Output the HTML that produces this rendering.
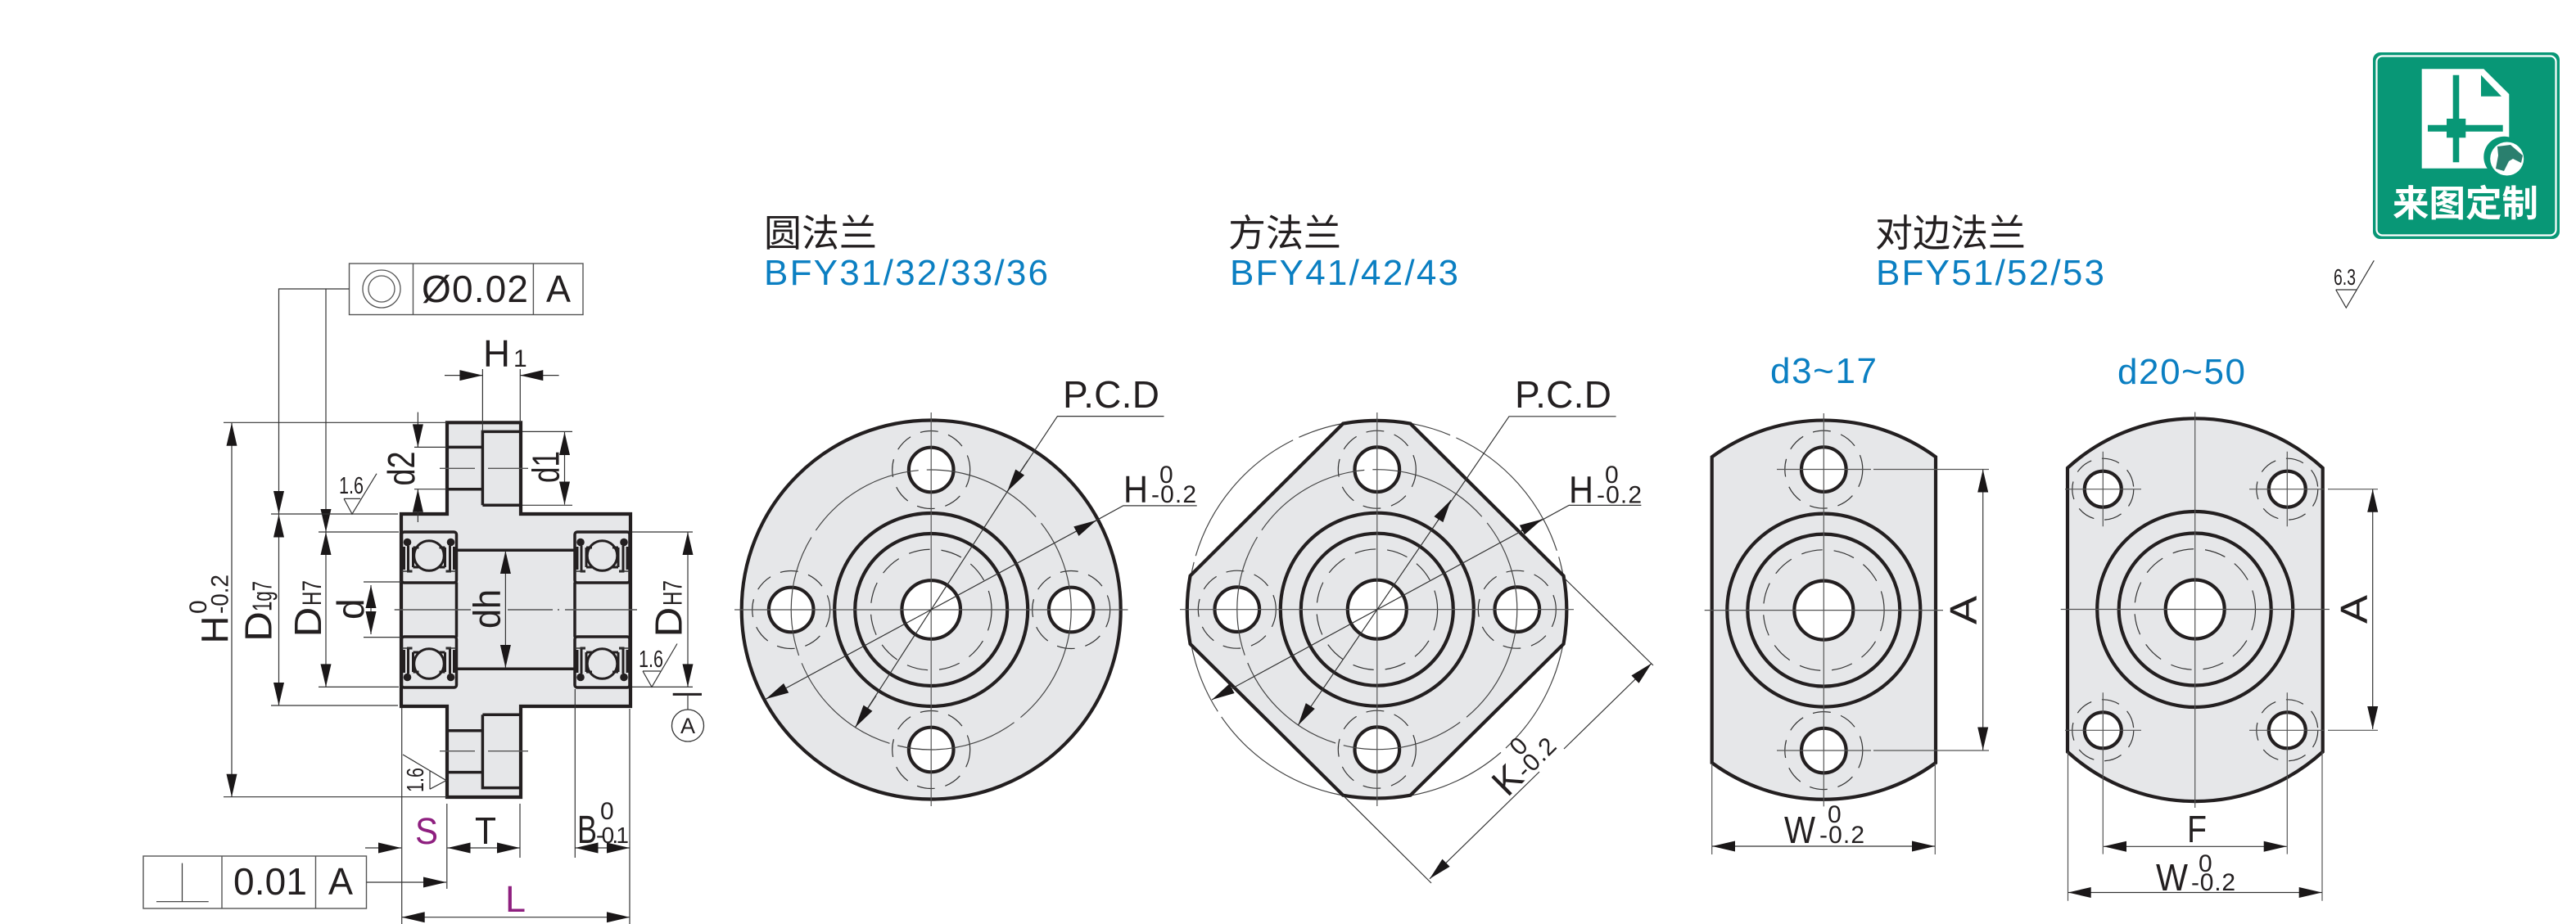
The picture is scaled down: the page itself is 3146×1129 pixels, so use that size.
<!DOCTYPE html>
<html><head><meta charset="utf-8"><style>
html,body{margin:0;padding:0;background:#fff;width:3146px;height:1129px;overflow:hidden}
svg{display:block}
text{font-family:"Liberation Sans","Noto Sans CJK SC",sans-serif;fill:#231f20}
.b{font-size:44px;fill:#0b7fc2}
.c{font-size:46px;font-family:"Liberation Sans","Noto Sans CJK SC",sans-serif}
.m{font-size:43px}.s{font-size:30px}.r{font-size:24px}
.big{font-size:46px}
.p{fill:#8e1f7f;font-size:45px}
.plate{fill:#e6e7e9;stroke:#231f20;stroke-width:4.2}
.k{fill:none;stroke:#231f20;stroke-width:4.2}
.hole{fill:#fff;stroke:#231f20;stroke-width:4.2}
.th{fill:none;stroke:#333;stroke-width:1.2}
.cl{fill:none;stroke:#555;stroke-width:1.2}
.da{fill:none;stroke:#333;stroke-width:1.2;stroke-dasharray:26 14}
.da2{fill:none;stroke:#333;stroke-width:1.2;stroke-dasharray:22 13}
.pcd{fill:none;stroke:#444;stroke-width:1.2;stroke-dasharray:150 10}
.ar{fill:none;stroke:#333;stroke-width:1.2;marker-end:url(#a)}
</style></head><body>
<svg width="3146" height="1129" viewBox="0 0 3146 1129" xmlns="http://www.w3.org/2000/svg">
<defs>
<marker id="a" markerUnits="userSpaceOnUse" markerWidth="30" markerHeight="14" refX="28" refY="7" orient="auto-start-reverse" overflow="visible"><path d="M0 0.5L28 7L0 13.5Z" fill="#1a1718"/></marker>
<g id="brg">
<rect x="0" y="0" width="67" height="62" rx="3" fill="none" stroke="#231f20" stroke-width="3.5"/>
<circle cx="33.5" cy="29" r="18.3" fill="#e6e7e9" stroke="#231f20" stroke-width="3"/>
<circle cx="7" cy="12.5" r="4.8" fill="#231f20"/><circle cx="60" cy="12.5" r="4.8" fill="#231f20"/>
<path d="M8 17V48H13M14 19V43M14 19H21M14 43H21M3 18V46" fill="none" stroke="#231f20" stroke-width="3"/>
<path d="M59 17V48H54M53 19V43M53 19H46M53 43H46M64 18V46" fill="none" stroke="#231f20" stroke-width="3"/>
<path d="M0 48H13M54 48H67" stroke="#333" stroke-width="1.4" fill="none"/>
</g>
<g id="rings">
<circle r="118" class="k"/><circle r="93" class="k"/>
<circle r="73.8" class="da"/>
</g>
<g id="hb"><circle r="47.5" class="da2"/><circle r="27.3" class="hole"/></g>
<g id="hs"><circle r="37.5" class="da2"/><ellipse rx="22.5" ry="22" class="hole"/></g>
</defs>

<!-- badge -->
<rect x="2898" y="64" width="228" height="228" rx="9" fill="#089776"/>
<rect x="2902.5" y="68.5" width="219" height="219" rx="7" fill="none" stroke="#fff" stroke-width="2.2"/>
<path d="M2957.7 84.3H3033.3L3064.3 115V205.7H2957.7Z" fill="#fff"/>
<path d="M3030 91.7V117.7H3055Z" fill="#089776"/>
<path d="M2995.7 91.7h7.6V145h8V152.7h45.4v8H3011.3V168.3h-8V198.3h-7.6V168.3H2988V160.7H2965V152.7H2988V145h7.7Z" fill="#089776"/>
<circle cx="3058.3" cy="191.7" r="25" fill="#089776"/>
<circle cx="3061.7" cy="194" r="20.5" fill="#fff"/>
<path d="M3050 179L3066 177L3081 190L3079 199L3069 194L3064 197L3058 209L3048 206L3051 190Z" fill="#2a7f6e"/>
<text x="2922" y="264" font-size="44.5" font-weight="700" style="fill:#fff;font-family:'Noto Sans CJK SC',sans-serif">来图定制</text>

<!-- 6.3 -->
<text x="2850" y="348" class="r" style="font-size:28px" textLength="27" lengthAdjust="spacingAndGlyphs">6.3</text>
<path d="M2852.7 354H2877.7M2852.7 354L2865.3 376L2899.3 318.3" class="th"/>

<!-- titles -->
<text x="933" y="301" class="c">圆法兰</text>
<text x="933" y="348" class="b" textLength="347" lengthAdjust="spacing">BFY31/32/33/36</text>
<text x="1500" y="301" class="c">方法兰</text>
<text x="1502" y="348" class="b" textLength="279" lengthAdjust="spacing">BFY41/42/43</text>
<text x="2290" y="301" class="c">对边法兰</text>
<text x="2291" y="348" class="b" textLength="279" lengthAdjust="spacing">BFY51/52/53</text>
<text x="2162" y="468" class="b" textLength="130" lengthAdjust="spacing">d3~17</text>
<text x="2586" y="469" class="b" textLength="156" lengthAdjust="spacing">d20~50</text>

<!-- SIDE VIEW -->
<rect x="426.5" y="322" width="285.5" height="62.5" fill="none" stroke="#555" stroke-width="1.4"/>
<path d="M504.5 322V384.5M651.4 322V384.5" stroke="#555" stroke-width="1.4"/>
<circle cx="466" cy="353" r="23" fill="none" stroke="#555" stroke-width="1.3"/><circle cx="466" cy="353" r="16" fill="none" stroke="#555" stroke-width="1.3"/>
<text x="515" y="369" class="big" textLength="130" lengthAdjust="spacing">Ø0.02</text>
<text x="667" y="369" class="big" textLength="30" lengthAdjust="spacingAndGlyphs">A</text>
<path d="M426.5 353H340.5V628" class="ar"/>
<path d="M398 353V650" class="ar"/>

<path d="M546 516.3H636V628H770V863H636V974H546V863H490V628H546Z" class="plate"/>
<path d="M589.4 617.3V527.4H636M589.4 617.3H636M546 546.4H589.4M546 597.7H589.4" class="k" style="stroke-width:3.5"/>
<path d="M589.4 873.2V962.6H636M589.4 873.2H636M546 892.8H589.4M546 943.6H589.4" class="k" style="stroke-width:3.5"/>
<path d="M557.5 672.3H702M557.5 817.3H702" class="k" style="stroke-width:3.5"/>
<path d="M490 711.5V778.5M557.5 711.5V778.5M702 711.5V778.5M769.5 711.5V778.5" class="k" style="stroke-width:3.5"/>
<use href="#brg" transform="translate(490.5,650)"/>
<use href="#brg" transform="translate(702,650)"/>
<use href="#brg" transform="translate(490.5,840) scale(1,-1)"/>
<use href="#brg" transform="translate(702,840) scale(1,-1)"/>
<path d="M481.7 745H575M620 745H675M681 745H683M690 745H778M537 572.3H580M596 572.3H645M537 917.7H580M596 917.7H645" class="cl" style="stroke-width:1.4"/>

<!-- H1 -->
<text x="590" y="448" class="big" textLength="33" lengthAdjust="spacingAndGlyphs">H</text><text x="627" y="448" class="s">1</text>
<path d="M543 458.6H589.4" class="ar"/><path d="M682.6 458.6H635.3" class="ar"/>
<path d="M589.4 451V527M635.3 451V516" class="th"/>

<!-- H -->
<path d="M273 516.3H546M273 973.7H546" class="th"/>
<path d="M283 745V516.8" class="ar"/><path d="M283 745V973.7" class="ar"/>
<text transform="translate(278.6,786.5) rotate(-90)" class="big" textLength="34" lengthAdjust="spacingAndGlyphs">H</text>
<text transform="translate(278.6,750) rotate(-90)" class="s" textLength="48" lengthAdjust="spacingAndGlyphs">-0.2</text>
<text transform="translate(252,750) rotate(-90)" class="s">0</text>

<!-- D1g7 -->
<path d="M331 628H486M331 862H486" class="th"/>
<path d="M340.5 700V628.5" class="ar"/><path d="M340.5 700V862" class="ar"/>
<text transform="translate(331.5,784) rotate(-90)" class="big" textLength="37" lengthAdjust="spacingAndGlyphs">D</text>
<text transform="translate(331.5,747) rotate(-90)" style="font-size:33px" textLength="37" lengthAdjust="spacingAndGlyphs">1g7</text>

<!-- D H7 left -->
<path d="M389 650H487M389 839.4H487" class="th"/>
<path d="M398 745V650" class="ar"/><path d="M398 745V839.4" class="ar"/>
<text transform="translate(392,778.6) rotate(-90)" class="big" textLength="37" lengthAdjust="spacingAndGlyphs">D</text>
<text transform="translate(392,740) rotate(-90)" style="font-size:32px" textLength="31" lengthAdjust="spacingAndGlyphs">H7</text>

<!-- d -->
<path d="M444 711H490M444 778.6H490" class="th"/>
<path d="M453 745V715" class="ar"/><path d="M453 745V775" class="ar"/>
<text transform="translate(444,757) rotate(-90)" class="big">d</text>

<!-- dh -->
<path d="M617.4 745V673" class="ar"/><path d="M617.4 745V816" class="ar"/>
<text transform="translate(610.5,768) rotate(-90)" class="big" textLength="48" lengthAdjust="spacingAndGlyphs">dh</text>

<!-- d2 d1 -->
<path d="M506 546.4H546M506 597.7H546" class="th"/>
<path d="M510.4 503.6V546.4" class="ar"/><path d="M510.4 638V597.7" class="ar"/>
<text transform="translate(505.8,593.5) rotate(-90)" class="big" textLength="42" lengthAdjust="spacingAndGlyphs">d2</text>
<path d="M638 527.4H699M638 617.3H699" class="th"/>
<path d="M689.5 572V528" class="ar"/><path d="M689.5 572V616.5" class="ar"/>
<text transform="translate(682.6,590) rotate(-90)" class="big" textLength="39" lengthAdjust="spacingAndGlyphs">d1</text>

<!-- right D H7 -->
<path d="M772 650H846M772 839.4H846" class="th"/>
<path d="M840 745V650" class="ar"/><path d="M840 745V839.4" class="ar"/>
<text transform="translate(832.7,778.6) rotate(-90)" class="big" textLength="37" lengthAdjust="spacingAndGlyphs">D</text>
<text transform="translate(832.7,740) rotate(-90)" style="font-size:32px" textLength="31" lengthAdjust="spacingAndGlyphs">H7</text>

<!-- roughness -->
<text x="414" y="603" class="r" style="font-size:29px" textLength="30" lengthAdjust="spacingAndGlyphs">1.6</text>
<path d="M420 609.4H440.2M420 609.4L430 628L460 578.7" class="th"/>
<text x="780" y="815" class="r" style="font-size:29px" textLength="30" lengthAdjust="spacingAndGlyphs">1.6</text>
<path d="M785 820H806.6M785 820L796 839.4L827 786.5" class="th"/>
<text transform="translate(517,968) rotate(-90)" class="r" style="font-size:29px" textLength="30" lengthAdjust="spacingAndGlyphs">1.6</text>
<path d="M525 941.5V964.2M525 964.2L545 953.6L492 922" class="th"/>

<!-- datum -->
<path d="M821.7 848.4H857" stroke="#231f20" stroke-width="3" fill="none"/>
<path d="M840 848.4V867" class="th"/>
<circle cx="840" cy="886.5" r="19.5" fill="none" stroke="#333" stroke-width="1.3"/>
<text x="840" y="896" font-size="27" text-anchor="middle">A</text>

<!-- bottom dims -->
<path d="M490.7 865V1129M545.8 982V1086M635 982V1048M702.3 842V1048M769 866V1129" class="th"/>
<path d="M446 1036H490" class="ar"/>
<path d="M590 1036H546.5" class="ar"/><path d="M590 1036H635" class="ar"/>
<path d="M735 1036H702.5" class="ar"/><path d="M735 1036H769" class="ar"/>
<text x="507" y="1031" class="p" textLength="28" lengthAdjust="spacingAndGlyphs">S</text>
<text x="580" y="1031" class="big" textLength="26" lengthAdjust="spacingAndGlyphs">T</text>
<text x="705" y="1030" style="font-size:48px" textLength="24" lengthAdjust="spacingAndGlyphs">B</text>
<text x="733" y="1001" class="s">0</text>
<text x="728" y="1030" style="font-size:28px" textLength="40" lengthAdjust="spacing">-0.1</text>
<path d="M630 1120.7H490.7" class="ar"/><path d="M630 1120.7H769" class="ar"/>
<text x="617" y="1114" class="p" textLength="25" lengthAdjust="spacingAndGlyphs">L</text>

<rect x="175" y="1046" width="272.5" height="64" fill="none" stroke="#555" stroke-width="1.4"/>
<path d="M271 1046V1110M385.5 1046V1110" stroke="#555" stroke-width="1.4"/>
<path d="M191 1101.7H254.7M222.5 1054.6V1101.7" class="th"/>
<text x="285" y="1093" class="big" textLength="90" lengthAdjust="spacing">0.01</text>
<text x="401" y="1093" class="big" textLength="30" lengthAdjust="spacingAndGlyphs">A</text>
<path d="M447.5 1078H545" class="ar"/>

<!-- ROUND FLANGE -->
<circle cx="1137.2" cy="745" r="231.5" class="plate"/>
<circle cx="1137.2" cy="745" r="35.8" class="hole"/>
<g transform="translate(1137.2,745)"><use href="#rings"/>
<use href="#hb" x="0" y="-171"/><use href="#hb" x="0" y="171"/><use href="#hb" x="-171" y="0"/><use href="#hb" x="171" y="0"/>
<circle r="171" class="pcd"/></g>
<path d="M897 745H1377.5M1137.2 504V985" class="cl"/>
<path d="M1421.5 508.6H1291.4L1230 601" class="th"/><path d="M1255 563L1230.2 600.4" class="ar"/>
<path d="M1230 601L1044.6 888.6" class="th"/><path d="M1070 850L1044.6 888.6" class="ar"/>
<path d="M1461.7 617.9H1371.8L1339 635.8L935.5 854" class="th"/>
<path d="M1315 648.8L1339 635.8" class="ar"/><path d="M960 840.8L935.5 854" class="ar"/>
<text x="1298" y="498" class="big" textLength="118" lengthAdjust="spacing">P.C.D</text>
<text x="1372" y="614" class="big" textLength="30" lengthAdjust="spacingAndGlyphs">H</text>
<text x="1416" y="590" class="s">0</text>
<text x="1406" y="614" class="s" textLength="55" lengthAdjust="spacing">-0.2</text>

<!-- SQUARE FLANGE -->
<circle cx="1681.8" cy="744.7" r="231" fill="none" stroke="#444" stroke-width="1.2" stroke-dasharray="190 8"/>
<path d="M1640.2 517.6A231 231 0 0 1 1722.5 517.6L1909.5 703.5A231 231 0 0 1 1909.5 786.9L1722.5 971.7A231 231 0 0 1 1640.2 971.7L1453.6 786.9A231 231 0 0 1 1453.6 703.5Z" class="plate"/>
<circle cx="1681.8" cy="744.7" r="36" class="hole"/>
<g transform="translate(1681.8,744.7)"><use href="#rings"/>
<use href="#hb" x="0" y="-171"/><use href="#hb" x="0" y="171"/><use href="#hb" x="-171" y="0"/><use href="#hb" x="171" y="0"/>
<circle r="171" class="pcd"/></g>
<path d="M1441 744.7H1922M1681.8 504V985" class="cl"/>
<path d="M1973.6 508.8H1843L1585.3 886.2" class="th"/>
<path d="M1756 636L1772 611" class="ar"/>
<path d="M1600 863L1585.3 886.2" class="ar"/>
<path d="M2004.4 617.4H1916.2L1505 841" class="th"/>
<path d="M1858 648L1883.6 634.4" class="ar"/>
<path d="M1505 841L1480 855" class="ar"/>
<text x="1850" y="498" class="big" textLength="118" lengthAdjust="spacing">P.C.D</text>
<text x="1916" y="614.7" class="big" textLength="30" lengthAdjust="spacingAndGlyphs">H</text>
<text x="1960" y="590" class="s">0</text>
<text x="1950" y="614.7" class="s" textLength="55" lengthAdjust="spacing">-0.2</text>
<path d="M1910 706L2019 813M1640 971.7L1748 1079" class="th"/>
<path d="M1880 943L1746 1073.8" class="ar"/><path d="M1910 915L2017 810.5" class="ar"/>
<g transform="translate(1841,975) rotate(-45)">
<text x="0" y="0" class="big" textLength="31" lengthAdjust="spacingAndGlyphs">K</text>
<text x="32" y="0" class="s" textLength="55" lengthAdjust="spacing">-0.2</text>
<text x="46" y="-25" class="s">0</text></g>

<!-- OBROUND d3~17 -->
<path d="M2090.7 558.3A231 231 0 0 1 2364 558.3V932A231 231 0 0 1 2090.7 932Z" class="plate"/>
<circle cx="2227.3" cy="745.6" r="36" class="hole"/>
<g transform="translate(2227.3,745.6)"><use href="#rings"/><use href="#hb" x="0" y="-172"/><use href="#hb" x="0" y="171.5"/></g>
<path d="M2081.7 745.6H2373M2227.3 505V985.4" class="cl"/>
<path d="M2170 573.5H2285M2288 573.5H2429M2170 917H2285M2288 917H2429" class="cl"/>
<path d="M2421.7 745V573.5" class="ar"/><path d="M2421.7 745V916.5" class="ar"/>
<text transform="translate(2414,763) rotate(-90)" class="big" textLength="35" lengthAdjust="spacingAndGlyphs">A</text>
<path d="M2090.7 933V1044M2363.3 933V1044" class="cl"/>
<path d="M2227 1034H2091" class="ar"/><path d="M2227 1034H2363" class="ar"/>
<text x="2179" y="1030" class="big" textLength="38" lengthAdjust="spacingAndGlyphs">W</text>
<text x="2232" y="1005" class="s">0</text>
<text x="2222" y="1030" class="s" textLength="55" lengthAdjust="spacing">-0.2</text>

<!-- OBROUND d20~50 -->
<path d="M2525 571.8A231 231 0 0 1 2836.7 571.8V918.6A231 231 0 0 1 2525 918.6Z" class="plate"/>
<circle cx="2680.7" cy="744.5" r="36" class="hole"/>
<g transform="translate(2680.7,744.5)"><circle r="119.5" class="k"/><circle r="93" class="k"/><circle r="73.8" class="da"/></g>
<use href="#hs" x="2568.3" y="597.7"/><use href="#hs" x="2793.3" y="597.7"/><use href="#hs" x="2568.3" y="892.3"/><use href="#hs" x="2793.3" y="892.3"/>
<path d="M2516.7 744.5H2845M2680.7 503.5V987" class="cl"/>
<path d="M2522 597.7H2615M2747 597.7H2838M2843 597.7H2904M2522 892.3H2615M2747 892.3H2838M2843 892.3H2904" class="cl"/>
<path d="M2568.3 551.7V643.2M2793.3 551.7V643.2M2568.3 846.3V1043.6M2793.3 846.3V1043.6" class="cl"/>
<path d="M2897.7 745V597.7" class="ar"/><path d="M2897.7 745V891" class="ar"/>
<text transform="translate(2891,762) rotate(-90)" class="big" textLength="35" lengthAdjust="spacingAndGlyphs">A</text>
<path d="M2525.5 918.6V1100.8M2836 918.6V1100.8" class="cl"/>
<path d="M2680 1034.3H2569" class="ar"/><path d="M2680 1034.3H2792.7" class="ar"/>
<text x="2671" y="1029" class="big" textLength="24" lengthAdjust="spacingAndGlyphs">F</text>
<path d="M2680 1090.5H2525.7" class="ar"/><path d="M2680 1090.5H2835.7" class="ar"/>
<text x="2633" y="1088" class="big" textLength="39" lengthAdjust="spacingAndGlyphs">W</text>
<text x="2685" y="1065" class="s">0</text>
<text x="2676" y="1088" class="s" textLength="54" lengthAdjust="spacing">-0.2</text>
</svg>
</body></html>
